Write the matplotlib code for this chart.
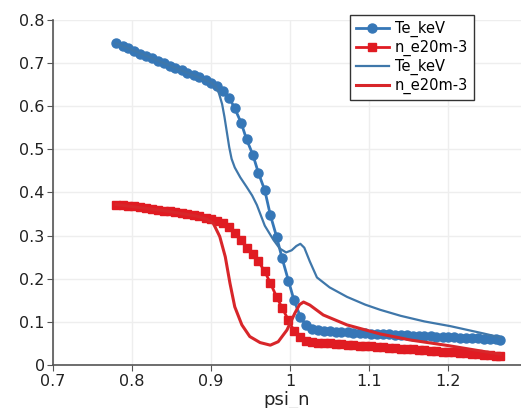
import matplotlib
matplotlib.use("Agg")
import matplotlib.pyplot as plt
from matplotlib.ticker import FuncFormatter

# marker series (psi_n grid)
psi_m = [0.780, 0.788, 0.795, 0.803, 0.810, 0.818, 0.825, 0.833, 0.840, 0.848,
         0.855, 0.863, 0.870, 0.878, 0.885, 0.893, 0.900, 0.908, 0.915, 0.923,
         0.930, 0.938, 0.945, 0.953, 0.960, 0.968, 0.975, 0.983, 0.990, 0.998,
         1.005, 1.013, 1.020, 1.028, 1.035, 1.043, 1.050, 1.058, 1.065, 1.073,
         1.080, 1.088, 1.095, 1.103, 1.110, 1.118, 1.125, 1.133, 1.140, 1.148,
         1.155, 1.163, 1.170, 1.178, 1.185, 1.193, 1.200, 1.208, 1.215, 1.223,
         1.230, 1.238, 1.245, 1.253, 1.260, 1.266]
te_m = [0.746, 0.740, 0.734, 0.728, 0.722, 0.716, 0.711, 0.705, 0.700, 0.694,
        0.689, 0.683, 0.678, 0.672, 0.667, 0.661, 0.655, 0.646, 0.636, 0.620,
        0.595, 0.562, 0.523, 0.487, 0.445, 0.405, 0.348, 0.297, 0.247, 0.195,
        0.150, 0.112, 0.092, 0.083, 0.080, 0.079, 0.078, 0.077, 0.077, 0.076,
        0.075, 0.075, 0.074, 0.073, 0.072, 0.072, 0.071, 0.070, 0.070, 0.069,
        0.068, 0.068, 0.067, 0.067, 0.066, 0.065, 0.065, 0.064, 0.063, 0.063,
        0.062, 0.062, 0.061, 0.060, 0.060, 0.059]
ne_m = [0.372, 0.371, 0.369, 0.368, 0.366, 0.364, 0.362, 0.360, 0.358, 0.356,
        0.354, 0.352, 0.350, 0.347, 0.345, 0.342, 0.339, 0.335, 0.330, 0.319,
        0.305, 0.290, 0.272, 0.257, 0.240, 0.217, 0.190, 0.158, 0.132, 0.104,
        0.079, 0.064, 0.056, 0.053, 0.052, 0.051, 0.050, 0.049, 0.048, 0.047,
        0.046, 0.045, 0.044, 0.043, 0.042, 0.041, 0.040, 0.039, 0.038, 0.037,
        0.036, 0.035, 0.034, 0.033, 0.032, 0.031, 0.030, 0.029, 0.028, 0.027,
        0.026, 0.025, 0.024, 0.023, 0.022, 0.021]

# line series
psi_te = [0.780, 0.840, 0.880, 0.900, 0.906, 0.910, 0.914, 0.917, 0.920, 0.923,
          0.926, 0.930, 0.937, 0.945, 0.952, 0.958, 0.968, 0.979, 0.987, 0.995,
          1.002, 1.008, 1.013, 1.018, 1.025, 1.034, 1.050, 1.072, 1.095, 1.114,
          1.140, 1.170, 1.203, 1.245, 1.266]
te_line = [0.746, 0.700, 0.670, 0.655, 0.645, 0.630, 0.605, 0.575, 0.540, 0.505,
           0.478, 0.458, 0.435, 0.413, 0.393, 0.371, 0.323, 0.290, 0.270, 0.261,
           0.266, 0.276, 0.281, 0.272, 0.240, 0.203, 0.180, 0.158, 0.140, 0.128,
           0.114, 0.101, 0.090, 0.073, 0.064]
psi_ne = [0.780, 0.840, 0.880, 0.895, 0.903, 0.911, 0.918, 0.924, 0.930, 0.939,
          0.949, 0.962, 0.975, 0.985, 0.996, 1.006, 1.012, 1.017, 1.025, 1.042,
          1.072, 1.114, 1.152, 1.200, 1.266]
ne_line = [0.372, 0.358, 0.346, 0.338, 0.328, 0.298, 0.251, 0.189, 0.135, 0.093,
           0.066, 0.052, 0.046, 0.054, 0.081, 0.120, 0.140, 0.146, 0.139, 0.116,
           0.093, 0.072, 0.058, 0.045, 0.025]

BLUE = "#3677b7"
RED = "#e01b22"

fig = plt.figure(figsize=(5.21, 4.08), dpi=100)
ax = fig.add_axes([0.1017, 0.1054, 0.898, 0.8456])

ax.plot(psi_m, te_m, color=BLUE, marker="o", markersize=6.5, lw=2, label="Te_keV")
ax.plot(psi_m, ne_m, color=RED, marker="s", markersize=6.2, lw=2, label="n_e20m-3")
ax.plot(psi_te, te_line, color="#3f77aa", lw=1.6, label="Te_keV")
ax.plot(psi_ne, ne_line, color="#d8262a", lw=2.2, label="n_e20m-3")

ax.set_xlim(0.7, 1.292)
ax.set_ylim(0, 0.8)
ax.set_xticks([0.7, 0.8, 0.9, 1.0, 1.1, 1.2])
ax.set_yticks([0, 0.1, 0.2, 0.3, 0.4, 0.5, 0.6, 0.7, 0.8])
ax.xaxis.set_major_formatter(FuncFormatter(lambda v, p: "%g" % round(v, 2)))
ax.yaxis.set_major_formatter(FuncFormatter(lambda v, p: "%g" % round(v, 2)))
ax.grid(True, color="#eeeeee", lw=1)
ax.set_axisbelow(True)
for s in ["top", "right"]:
    ax.spines[s].set_visible(False)
for s in ["left", "bottom"]:
    ax.spines[s].set_color("#555555")
    ax.spines[s].set_linewidth(1.2)
ax.tick_params(direction="out", length=4, color="#555555", labelsize=11.5,
               labelcolor="#222222")
ax.tick_params(axis="x", pad=2.5)
ax.tick_params(axis="y", pad=2)
ax.set_xlabel("psi_n", fontsize=13, color="#222222", labelpad=1.5)

leg = ax.legend(loc="upper right", bbox_to_anchor=(0.9, 1.015), borderaxespad=0,
                fontsize=10.5, fancybox=False, framealpha=1, edgecolor="#333333",
                handlelength=2.3, borderpad=0.4, labelspacing=0.2,
                handletextpad=0.4)
leg.get_frame().set_linewidth(1.0)

fig.savefig("out.png", dpi=100)
